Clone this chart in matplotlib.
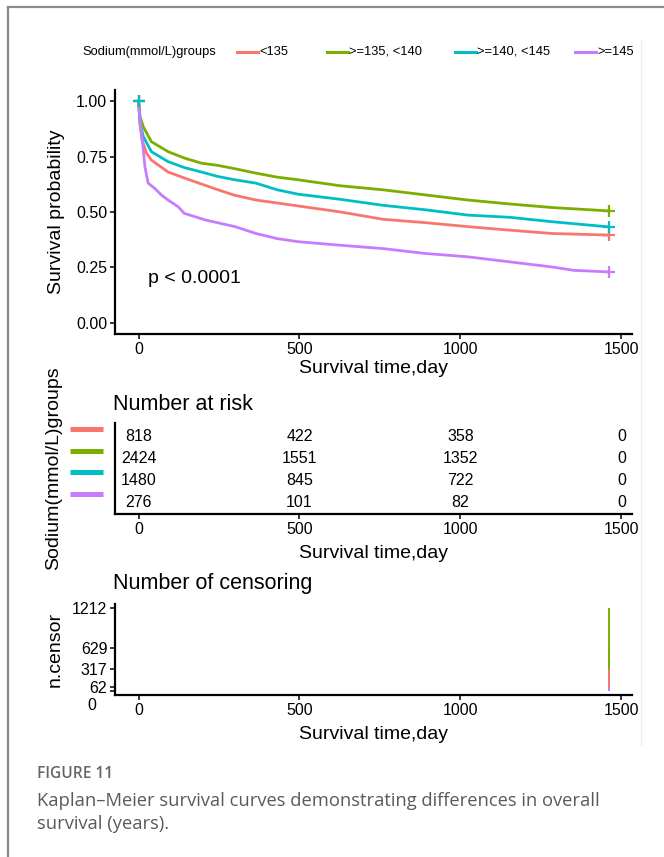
import matplotlib
matplotlib.use("Agg")
import matplotlib.pyplot as plt
from matplotlib.lines import Line2D
from matplotlib.transforms import ScaledTranslation, blended_transform_factory

plt.rcParams["font.family"] = ["Liberation Sans", "DejaVu Sans"]

# groups and colours (ggplot default hues)
groups = ["<135", ">=135, <140", ">=140, <145", ">=145"]
colors = ["#F8766D", "#7CAE00", "#00BFC4", "#C77CFF"]

# Kaplan-Meier curves (days, survival probability)
t_red = [0, 5, 11, 25, 40, 92, 143, 196, 247, 300, 365, 497, 628, 760, 891, 1023, 1154, 1286, 1460]
s_red = [1.0, 0.89, 0.824, 0.765, 0.734, 0.68, 0.653, 0.626, 0.60, 0.575, 0.554, 0.527, 0.50,
         0.467, 0.452, 0.434, 0.418, 0.403, 0.396]
t_green = [0, 5, 15, 40, 92, 143, 196, 247, 300, 365, 431, 497, 628, 760, 891, 1023, 1154, 1286, 1460]
s_green = [1.0, 0.93, 0.884, 0.817, 0.772, 0.743, 0.72, 0.71, 0.695, 0.675, 0.657, 0.645, 0.618,
           0.60, 0.577, 0.554, 0.536, 0.52, 0.505]
t_cyan = [0, 5, 15, 40, 92, 143, 196, 247, 300, 365, 431, 497, 628, 760, 891, 1023, 1154, 1286, 1460]
s_cyan = [1.0, 0.90, 0.84, 0.772, 0.727, 0.70, 0.68, 0.66, 0.645, 0.63, 0.60, 0.58, 0.557,
          0.53, 0.51, 0.486, 0.476, 0.456, 0.433]
t_purple = [0, 3, 7, 14, 20, 30, 50, 71, 92, 123, 142, 208, 300, 365, 431, 497, 628, 760, 891,
            1023, 1154, 1286, 1351, 1460]
s_purple = [1.0, 0.95, 0.884, 0.794, 0.704, 0.63, 0.607, 0.577, 0.554, 0.524, 0.494, 0.464, 0.434,
            0.403, 0.38, 0.366, 0.35, 0.335, 0.313, 0.298, 0.275, 0.252, 0.237, 0.23]

# number at risk table
risk_times = [0, 500, 1000, 1500]
risk_red = [818, 422, 358, 0]
risk_green = [2424, 1551, 1352, 0]
risk_cyan = [1480, 845, 722, 0]
risk_purple = [276, 101, 82, 0]

# number of censoring at end of follow-up
censor_time = 1460
n_censor = [317, 1212, 629, 62]

x_ticks = [0, 500, 1000, 1500]
W, H = 664, 857


def box(left, top, right, bottom):
    return [left / W, 1 - bottom / H, (right - left) / W, (bottom - top) / H]


def style(ax):
    for side in ["top", "right"]:
        ax.spines[side].set_visible(False)
    for side in ["left", "bottom"]:
        ax.spines[side].set_linewidth(1.6)
    ax.tick_params(length=3.5, width=1.1, labelsize=11.5, colors="black", pad=2)
    ax.set_xlim(-73, 1533)
    ax.set_xticks(x_ticks)


fig = plt.figure(figsize=(W / 100, H / 100), dpi=100)

# ---- survival curves
ax1 = fig.add_axes(box(115, 90, 632, 334))
style(ax1)
curves = [(t_red, s_red), (t_green, s_green), (t_cyan, s_cyan), (t_purple, s_purple)]
for (t, s), c in zip(curves, colors):
    ax1.plot(t, s, color=c, lw=2.0, solid_joinstyle="miter")
    ax1.plot(t[-1], s[-1], marker="+", color=c, ms=9, mew=1.6)
for (t, s), c in zip(curves[:3], colors[:3]):
    ax1.plot(t[0], s[0], marker="+", color=c, ms=9, mew=1.6)
ax1.set_ylim(-0.05, 1.05)
ax1.set_yticks([0, 0.25, 0.5, 0.75, 1.0])
ax1.set_yticklabels(["0.00", "0.25", "0.50", "0.75", "1.00"])
ax1.set_ylabel("Survival probability", fontsize=14, labelpad=8)
ax1.set_xlabel("Survival time,day", fontsize=14, labelpad=2.5)
ax1.text(30, 0.2, "p < 0.0001", fontsize=14, ha="left", va="center")

# legend across the top
leg_y = 1 - 52 / H
fig.text(82 / W, leg_y, "Sodium(mmol/L)groups", fontsize=9.3, va="center", ha="left")
leg_x = [237, 327, 455, 575]
for x0, c, g in zip(leg_x, colors, groups):
    fig.add_artist(Line2D([x0 / W, (x0 + 21) / W], [leg_y, leg_y], color=c, lw=2.2))
    fig.text((x0 + 22) / W, leg_y, g, fontsize=9.3, va="center", ha="left")

# ---- number at risk
ax2 = fig.add_axes(box(115, 423, 632, 514))
style(ax2)
ax2.set_ylim(0.447, 4.645)
ax2.set_yticks([])
risks = [risk_red, risk_green, risk_cyan, risk_purple]
rows = [4, 3, 2, 1]
for r, vals in zip(rows, risks):
    for x, v in zip(risk_times, vals):
        ax2.text(x, r, str(v), ha="center", va="center", fontsize=11.5)
bar_tr = blended_transform_factory(ax2.transAxes, ax2.transData) + \
    ScaledTranslation(0, 8 / 100, fig.dpi_scale_trans)
for r, c in zip(rows, colors):
    ax2.plot([-45 / 517, -12 / 517], [r, r], color=c, lw=3.6, transform=bar_tr,
             clip_on=False, solid_capstyle="butt")
ax2.set_ylabel("Sodium(mmol/L)groups", fontsize=14, labelpad=38)
ax2.set_xlabel("Survival time,day", fontsize=14, labelpad=6)
fig.text(113 / W, 1 - 404 / H, "Number at risk", fontsize=15.5, va="center", ha="left")

# ---- number of censoring
ax3 = fig.add_axes(box(115, 604, 632, 695))
style(ax3)
ax3.set_ylim(-60.6, 1272.6)
for i in [2, 1, 0, 3]:
    ax3.vlines(censor_time, 0, n_censor[i], color=colors[i], lw=1.4)
ax3.set_yticks([0, 62, 317, 629, 1212])
ax3.set_yticklabels(["", "62", "317", "629", "1212"])
ax3.set_ylabel("n.censor", fontsize=14, labelpad=6)
ax3.set_xlabel("Survival time,day", fontsize=14, labelpad=6)
fig.text(96 / W, 1 - 705 / H, "0", fontsize=11.5, ha="right", va="center")
fig.text(113 / W, 1 - 584 / H, "Number of censoring", fontsize=15.5, va="center", ha="left")

# ---- page frame and caption
fig.add_artist(Line2D([8 / W, 1], [1 - 7 / H, 1 - 7 / H], color="#8a8a8a", lw=1.6))
fig.add_artist(Line2D([8 / W, 8 / W], [0, 1 - 7 / H], color="#8a8a8a", lw=1.6))
fig.add_artist(Line2D([641 / W, 641 / W], [1 - 745 / H, 1 - 40 / H], color="#ececec", lw=0.8))
cap_font = ["Open Sans", "DejaVu Sans"]
fig.text(37 / W, 1 - 774 / H, "FIGURE 11", fontsize=11.2, color="#666666", fontweight="semibold",
         family=cap_font, va="center")
fig.text(37 / W, 1 - 801 / H, "Kaplan\u2013Meier survival curves demonstrating differences in overall",
         fontsize=13.2, color="#5a5a5a", family=cap_font, va="center")
fig.text(37 / W, 1 - 824 / H, "survival (years).", fontsize=13.2, color="#5a5a5a",
         family=cap_font, va="center")

fig.savefig("out.png", dpi=100)
